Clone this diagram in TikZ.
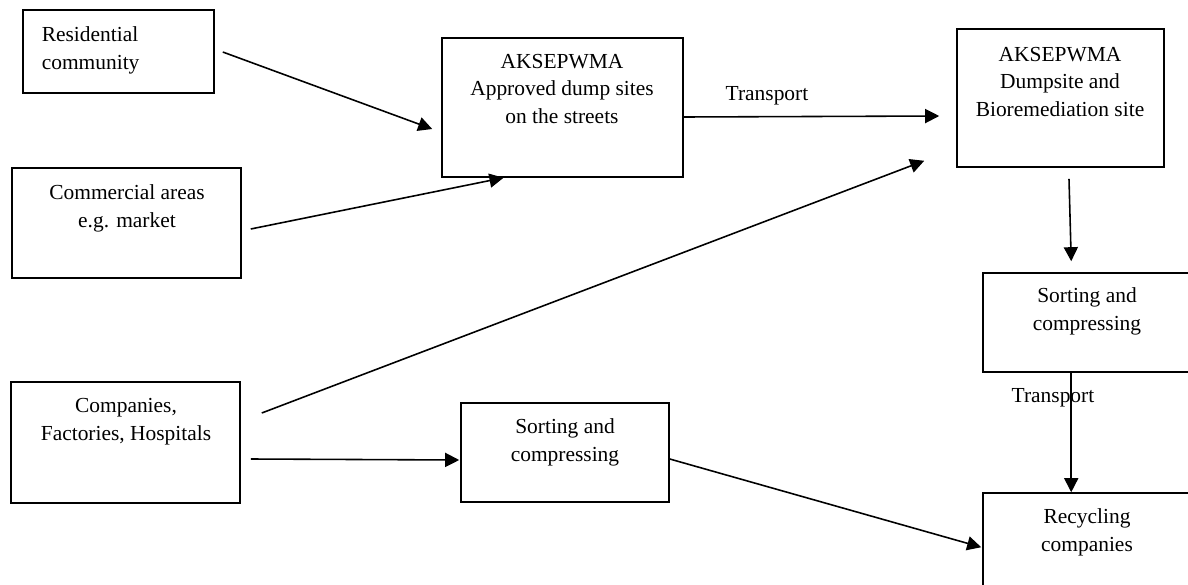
\documentclass[tikz,border=0pt]{standalone}
\usepackage{fontspec}
\setmainfont{Liberation Serif}
\usetikzlibrary{arrows.meta}

\begin{document}
\begin{tikzpicture}[x=0.02cm, y=-0.02cm, line width=0.9pt,
        every node/.style={font=\fontsize{12.2}{15.8}\selectfont},
        box/.style={draw, inner sep=0pt},
        txt/.style={inner sep=0pt, align=center},
        flow/.style={-{Triangle[length=8pt,width=8pt]}}]
        \useasboundingbox (0,0) rectangle (1188,585);
        \clip (0,0) rectangle (1188,585);

        % sources
        \node[box, minimum width=3.82cm, minimum height=1.66cm] (res) at (118.5,51.5) {};
        \node[box, minimum width=4.58cm, minimum height=2.20cm] (com) at (126.5,223) {};
        \node[box, minimum width=4.58cm, minimum height=2.42cm] (fac) at (125.5,442.5) {};

        % agency sites
        \node[box, minimum width=4.82cm, minimum height=2.78cm] (aks) at (562.5,107.5) {};
        \node[box, minimum width=4.14cm, minimum height=2.76cm] (dump) at (1060.5,98) {};

        % sorting and recycling
        \node[box, minimum width=4.34cm, minimum height=1.98cm] (sortR) at (1091.5,322.5) {};
        \node[box, minimum width=4.34cm, minimum height=2.34cm] (recyc) at (1091.5,551.5) {};
        \node[box, minimum width=4.16cm, minimum height=1.98cm] (sortM) at (565,452.5) {};

        \node[txt, anchor=west, align=left] (res-t) at (41,50) {Residential\\community};
        \node[txt] (com-t) at (127,208) {Commercial areas\\e.g. market};
        \node[txt] (fac-t) at (126,422) {Companies,\\Factories, Hospitals};
        \node[txt] (aks-t) at (562,89) {AKSEPWMA\\Approved dump sites\\on the streets};
        \node[txt] (dump-t) at (1060,82) {AKSEPWMA\\Dumpsite and\\Bioremediation site};
        \node[txt] (sortR-t) at (1087,311) {Sorting and\\compressing};
        \node[txt] (recyc-t) at (1087,532) {Recycling\\companies};
        \node[txt] (sortM-t) at (565,442) {Sorting and\\compressing};
        \node[txt] (tr1) at (767,96) {Transport};
        \node[txt] (tr2) at (1053,398) {Transport};

        \draw[flow] ([shift={(8,0.5)}]res.east) -- ([shift={(-9,21.5)}]aks.west);
        \draw[flow] ([shift={(9,6)}]com.east) -- ([shift={(-59,0)}]aks.south);
        \draw[flow] ([shift={(0,9.5)}]aks.east) -- ([shift={(-17,18)}]dump.west);
        \draw[flow] ([shift={(21,-29.5)}]fac.east) -- ([shift={(-32,-7)}]dump.south west);
        \draw[flow] ([shift={(8.5,11)}]dump.south) -- ([shift={(89,-11)}]sortR.north west);
        \draw[flow] ([shift={(89,0)}]sortR.south west) -- ([shift={(89,0)}]recyc.north west);
        \draw[flow] ([shift={(10,16.5)}]fac.east) -- ([shift={(-1,7.5)}]sortM.west);
        \draw[flow] ([shift={(0,6.5)}]sortM.east) -- ([shift={(-1,55)}]recyc.north west);
\end{tikzpicture}
\end{document}
